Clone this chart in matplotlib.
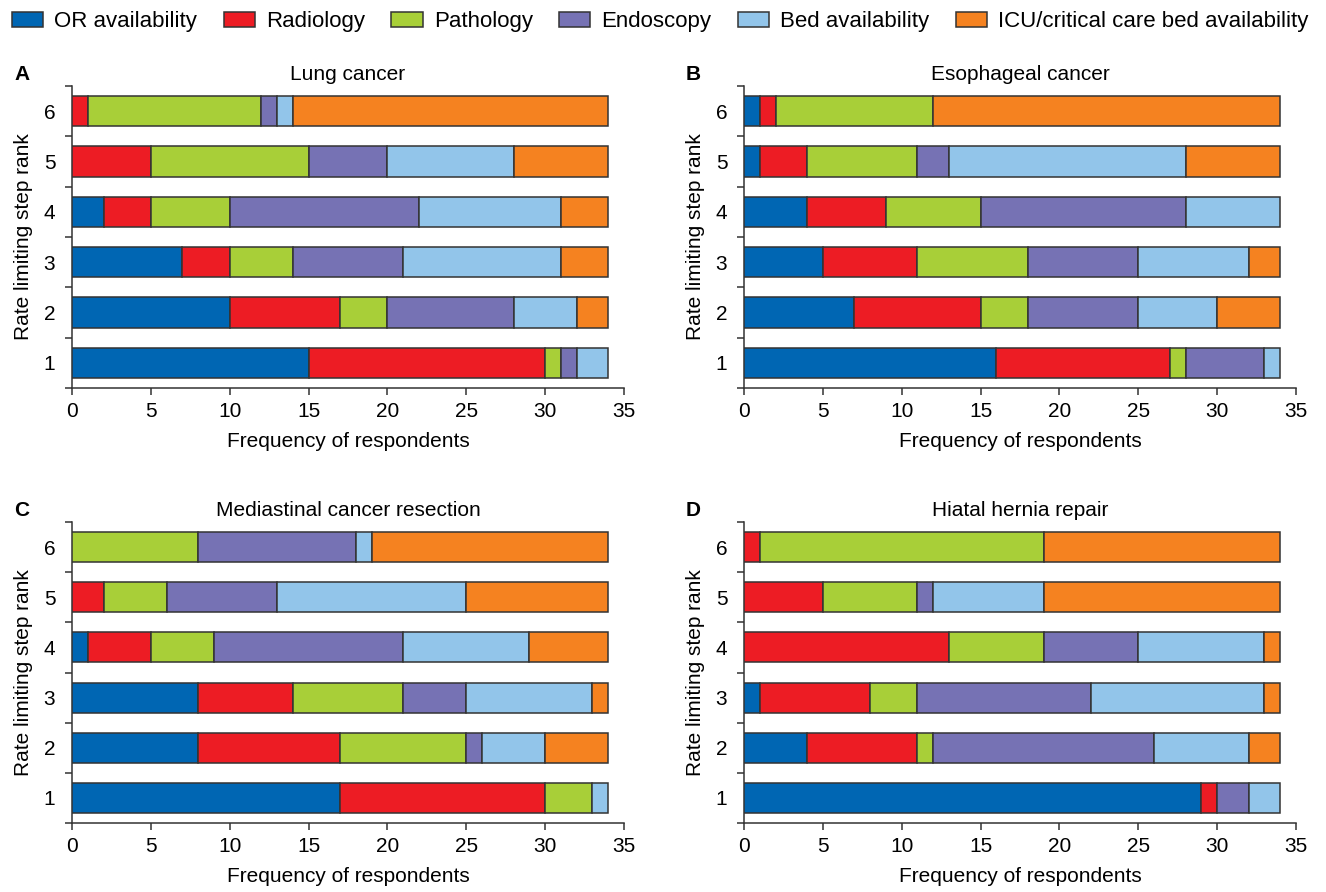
import numpy as np
import matplotlib
matplotlib.use("Agg")
import matplotlib.pyplot as plt
from matplotlib.patches import Patch

plt.rcParams['font.family'] = ['Liberation Sans', 'DejaVu Sans']

# Stacked counts per rank (ranks 1..6), one list per limiting factor
categories = ['OR availability', 'Radiology', 'Pathology', 'Endoscopy',
              'Bed availability', 'ICU/critical care bed availability']
colors = ['#0066b3', '#ed1c24', '#a8cf38', '#7672b4', '#92c5ea', '#f58220']
ranks = [1, 2, 3, 4, 5, 6]

lung = [
    [15, 10, 7, 2, 0, 0],
    [15, 7, 3, 3, 5, 1],
    [1, 3, 4, 5, 10, 11],
    [1, 8, 7, 12, 5, 1],
    [2, 4, 10, 9, 8, 1],
    [0, 2, 3, 3, 6, 20],
]
esophageal = [
    [16, 7, 5, 4, 1, 1],
    [11, 8, 6, 5, 3, 1],
    [1, 3, 7, 6, 7, 10],
    [5, 7, 7, 13, 2, 0],
    [1, 5, 7, 6, 15, 0],
    [0, 4, 2, 0, 6, 22],
]
mediastinal = [
    [17, 8, 8, 1, 0, 0],
    [13, 9, 6, 4, 2, 0],
    [3, 8, 7, 4, 4, 8],
    [0, 1, 4, 12, 7, 10],
    [1, 4, 8, 8, 12, 1],
    [0, 4, 1, 5, 9, 15],
]
hiatal = [
    [29, 4, 1, 0, 0, 0],
    [1, 7, 7, 13, 5, 1],
    [0, 1, 3, 6, 6, 18],
    [2, 14, 11, 6, 1, 0],
    [2, 6, 11, 8, 7, 0],
    [0, 2, 1, 1, 15, 15],
]

panels = [
    ('A', 'Lung cancer', lung),
    ('B', 'Esophageal cancer', esophageal),
    ('C', 'Mediastinal cancer resection', mediastinal),
    ('D', 'Hiatal hernia repair', hiatal),
]

W, H = 1326, 892
fig = plt.figure(figsize=(W / 100, H / 100), dpi=100)

# axes boxes in pixels: left, top, right, bottom
boxes = [(72, 86, 624, 388), (744, 86, 1296, 388),
         (72, 522, 624, 823), (744, 522, 1296, 823)]

EDGE = '#333333'
FS = 15

for (letter, title, data), (l, t, r, b) in zip(panels, boxes):
    ax = fig.add_axes([l / W, 1 - b / H, (r - l) / W, (b - t) / H])
    y = np.array(ranks)
    left = np.zeros(len(ranks))
    for vals, c in zip(data, colors):
        vals = np.array(vals, dtype=float)
        m = vals > 0
        ax.barh(y[m], vals[m], left=left[m], height=0.6, color=c,
                edgecolor=EDGE, linewidth=1.1, zorder=3)
        left += vals

    ax.set_xlim(0, 35)
    ax.set_ylim(0.5, 6.5)
    ax.set_xticks(range(0, 36, 5))
    ax.set_yticks(ranks)
    ax.set_yticks(np.arange(0.5, 7, 1), minor=True)
    ax.tick_params(axis='y', which='major', length=0, pad=12, labelsize=FS)
    ax.tick_params(axis='y', which='minor', length=5, width=1.1, color=EDGE)
    ax.tick_params(axis='x', length=5, width=1.1, color=EDGE, labelsize=FS,
                   pad=5)
    for s in ('top', 'right'):
        ax.spines[s].set_visible(False)
    for s in ('left', 'bottom'):
        ax.spines[s].set_color(EDGE)
        ax.spines[s].set_linewidth(1.1)

    ax.set_title(title, fontsize=FS, pad=4)
    ax.set_xlabel('Frequency of respondents', fontsize=FS, labelpad=8)
    ax.set_ylabel('Rate limiting step rank', fontsize=FS, labelpad=8)
    ax.text(-0.105, 1.038, letter, transform=ax.transAxes, fontsize=15,
            fontweight='bold', ha='left', va='center')

handles = [Patch(facecolor=c, edgecolor=EDGE, linewidth=1.1) for c in colors]
fig.legend(handles, categories, loc='upper center', bbox_to_anchor=(0.498, 1.01),
           ncol=6, frameon=False, fontsize=16, handlelength=1.4,
           handleheight=0.7, handletextpad=0.5, columnspacing=1.2)

fig.savefig('out.png', dpi=100)
